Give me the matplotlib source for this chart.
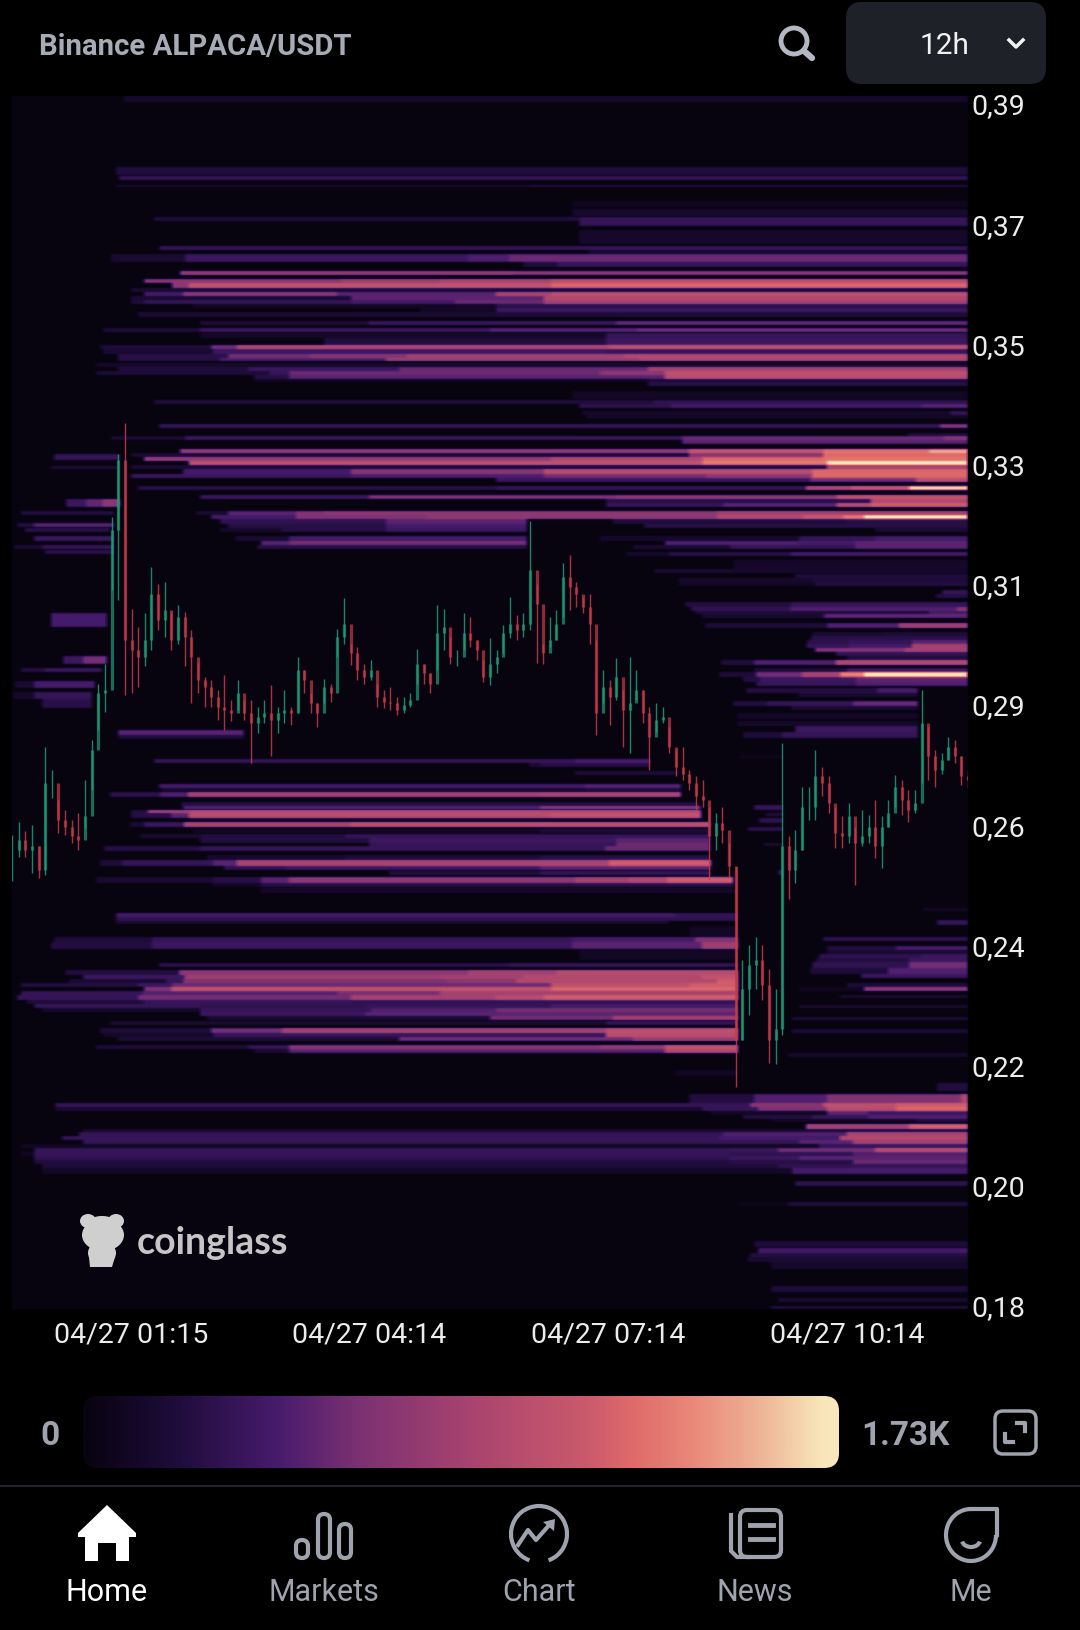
import numpy as np
import matplotlib
matplotlib.use('Agg')
import matplotlib.pyplot as plt
from matplotlib.colors import LinearSegmentedColormap
from matplotlib.patches import FancyBboxPatch, Circle, Polygon, Arc, Ellipse
from matplotlib.transforms import ScaledTranslation

plt.rcParams['font.family'] = ['Roboto', 'DejaVu Sans']

# minutes after 04/27 00:00, price in USDT
time_ticks = [75, 254, 434, 614]
time_labels = ['04/27 01:15', '04/27 04:14', '04/27 07:14', '04/27 10:14']
price_ticks = [0.39, 0.369, 0.348, 0.327, 0.306, 0.285, 0.264, 0.243, 0.222, 0.201, 0.18]
price_labels = ['0,39', '0,37', '0,35', '0,33', '0,31', '0,29', '0,26', '0,24', '0,22', '0,20', '0,18']
first_candle = -14.6
candle_step = 5

high = [.2625, .2648, .2631, .2642, .2605, .2779, .2738, .2686, .2669, .2651,
        .2663, .2721, .2791, .2889, .2924, .3180, .3291, .3344, .3020, .2988,
        .3012, .3093, .3064, .3067, .3012, .3026, .3014, .2982, .2927, .2901,
        .2895, .2878, .2904, .2860, .2895, .2860, .2860, .2849, .2860, .2886,
        .2849, .2878, .2849, .2936, .2913, .2872, .2855, .2898, .2889, .2985,
        .3038, .2959, .2953, .2924, .2930, .2889, .2878, .2884, .2866, .2866,
        .2872, .2950, .2924, .2907, .3026, .3020, .2971, .2948, .3012, .3006,
        .2965, .2930, .2968, .2948, .2991, .3041, .3009, .3012, .3174, .3064,
        .2959, .3006, .3017, .3099, .3113, .3067, .3041, .3046, .2965, .2913,
        .2895, .2933, .2878, .2936, .2913, .2878, .2849, .2855, .2849, .2814,
        .2773, .2779, .2738, .2727, .2721, .2674, .2663, .2674, .2610, .2569,
        .2407, .2433, .2447, .2433, .2390, .2355, .2785, .2622, .2634, .2709,
        .2709, .2773, .2744, .2727, .2674, .2657, .2680, .2639, .2669, .2660,
        .2686, .2657, .2686, .2730, .2721, .2703, .2703, .2878, .2814, .2773,
        .2767, .2796, .2791, .2762, .2738]
low = [.2544, .2587, .2587, .2558, .2549, .2555, .2689, .2628, .2625, .2610,
       .2599, .2637, .2703, .2808, .2840, .3052, .3035, .2869, .2872, .2884,
       .2919, .2948, .2982, .2971, .2948, .2959, .2919, .2855, .2872, .2849,
       .2849, .2825, .2808, .2823, .2843, .2825, .2750, .2802, .2820, .2762,
       .2802, .2820, .2817, .2837, .2872, .2837, .2814, .2855, .2857, .2936,
       .2959, .2921, .2895, .2889, .2895, .2849, .2846, .2843, .2834, .2837,
       .2849, .2889, .2889, .2872, .2913, .2948, .2924, .2919, .2948, .2953,
       .2930, .2892, .2886, .2907, .2942, .2968, .2965, .2971, .2982, .2925,
       .2924, .2953, .2965, .3006, .3017, .3023, .3012, .2959, .2799, .2855,
       .2817, .2860, .2779, .2767, .2860, .2820, .2738, .2805, .2820, .2767,
       .2727, .2721, .2703, .2669, .2674, .2546, .2599, .2610, .2552, .2184,
       .2267, .2311, .2355, .2337, .2227, .2224, .2276, .2512, .2541, .2599,
       .2651, .2651, .2692, .2663, .2602, .2602, .2610, .2538, .2605, .2610,
       .2584, .2567, .2639, .2674, .2660, .2648, .2663, .2715, .2721, .2709,
       .2732, .2756, .2750, .2712, .2706]
close = [.2599, .2616, .2599, .2605, .2564, .2715, .2715, .2651, .2639, .2622,
         .2616, .2657, .2773, .2872, .2878, .3157, .3279, .2965, .2948, .2936,
         .2965, .3046, .3000, .3017, .2965, .3006, .2971, .2936, .2895, .2884,
         .2866, .2849, .2843, .2837, .2872, .2837, .2820, .2831, .2837, .2825,
         .2837, .2843, .2837, .2913, .2895, .2855, .2837, .2884, .2872, .2971,
         .2994, .2942, .2913, .2901, .2913, .2866, .2857, .2855, .2843, .2852,
         .2860, .2924, .2907, .2889, .2977, .2988, .2936, .2936, .2977, .2965,
         .2948, .2901, .2924, .2936, .2977, .2994, .2982, .2994, .3087, .3029,
         .2942, .2965, .2994, .3075, .3058, .3046, .3023, .2994, .2837, .2884,
         .2866, .2901, .2843, .2855, .2878, .2837, .2796, .2825, .2831, .2779,
         .2744, .2732, .2715, .2692, .2686, .2622, .2645, .2634, .2570, .2267,
         .2355, .2398, .2407, .2363, .2267, .2285, .2605, .2564, .2599, .2674,
         .2674, .2727, .2715, .2680, .2628, .2622, .2657, .2610, .2622, .2639,
         .2605, .2639, .2663, .2709, .2686, .2669, .2680, .2820, .2762, .2738,
         .2756, .2779, .2762, .2727, .2721]

# heat bands: (price top, price bottom, [(minute the step starts, level 0-1), ...])
# a last step with level 0 ends the band, otherwise it runs to the right edge
upper_bands = [
    (.3915, .3906, [(70, .08)]),
    (.3792, .3778, [(64, .13)]),
    (.3776, .3769, [(66, .2)]),
    (.3761, .3756, [(64, .1), (376, .14)]),
    (.3732, .3721, [(407, .05)]),
    (.3718, .3706, [(407, .09)]),
    (.3705, .3698, [(92, .13), (376, .13), (412, .2)]),
    (.3698, .3689, [(412, .2)]),
    (.3681, .3657, [(412, .08)]),
    (.3654, .3647, [(96, .2)]),
    (.3646, .3639, [(420, .08)]),
    (.3639, .3625, [(60, .1), (116, .22), (329, .27), (360, .33)]),
    (.3625, .3617, [(370, .12), (396, .2)]),
    (.3610, .3603, [(112, .45), (363, .42)]),
    (.3596, .3589, [(85, .4), (106, .42), (233, .48), (308, .52), (391, .6)]),
    (.3589, .3581, [(106, .42), (119, .62), (391, .72)]),
    (.3581, .3574, [(75, .1)]),
    (.3574, .3567, [(85, .25), (114, .42), (230, .3), (350, .52), (391, .6)]),
    (.3567, .3560, [(75, .1), (241, .3), (386, .55)]),
    (.3560, .3553, [(75, .12), (85, .2), (241, .25), (319, .33), (386, .5)]),
    (.3553, .3546, [(122, .06), (350, .16)]),
    (.3546, .3539, [(293, .06), (350, .22)]),
    (.3538, .3530, [(80, .1), (350, .12)]),
    (.3523, .3516, [(127, .12), (254, .22), (440, .33)]),
    (.3510, .3503, [(54, .12), (127, .22), (345, .3), (456, .35)]),
    (.3501, .3493, [(127, .07), (433, .2)]),
    (.3493, .3480, [(220, .13), (433, .22)]),
    (.3480, .3473, [(52, .12), (135, .35), (155, .55), (435, .62)]),
    (.3473, .3465, [(54, .1), (137, .22), (433, .2)]),
    (.3465, .3458, [(65, .16), (148, .35), (210, .4), (283, .5), (446, .55)]),
    (.3458, .3452, [(65, .16), (142, .28), (267, .48), (458, .55)]),
    (.3450, .3443, [(49, .08)]),
    (.3443, .3436, [(65, .13), (163, .22), (277, .33), (464, .5)]),
    (.3436, .3429, [(49, .12), (179, .2), (194, .33), (428, .42), (477, .6)]),
    (.3429, .3422, [(168, .15), (194, .3), (477, .58)]),
    (.3421, .3416, [(168, .05), (464, .1)]),
    (.3416, .3409, [(464, .16)]),
    (.3401, .3387, [(407, .06)]),
    (.3385, .3378, [(92, .13), (376, .13), (469, .18)]),
    (.3378, .3371, [(412, .18), (482, .24), (671, .3)]),
    (.3365, .3358, [(415, .08), (692, .2)]),
    (.3358, .3351, [(418, .06)]),
    (.3342, .3335, [(96, .2), (684, .4)]),
    (.3327, .3321, [(660, .12)]),
    (.3321, .3314, [(60, .1), (116, .22), (490, .33), (687, .4)]),
    (.3314, .3307, [(490, .3)]),
    (.3299, .3292, [(112, .45), (363, .45), (495, .65), (596, .75), (676, .88)]),
    (.3292, .3285, [(75, .1), (495, .4), (596, .72)]),
    (.3285, .3278, [(85, .45), (106, .45), (391, .55), (505, .72), (596, .75)]),
    (.3278, .3271, [(119, .62), (505, .78), (599, 1.0)]),
    (.3271, .3264, [(75, .1), (599, .5)]),
    (.3264, .3256, [(114, .25), (241, .4), (386, .58), (588, .72)]),
    (.3256, .3249, [(75, .22), (241, .27), (386, .35), (508, .42), (588, .72)]),
    (.3249, .3241, [(350, .22), (586, .35), (666, .6)]),
    (.3234, .3227, [(80, .16), (350, .2), (583, .55), (617, .65), (661, 1.0)]),
    (.3219, .3212, [(127, .22), (254, .38), (440, .42), (607, .62)]),
    (.3212, .3205, [(433, .15), (632, .55)]),
    (.3205, .3197, [(433, .2), (521, .3), (607, .58), (632, .68)]),
    (.3190, .3183, [(124, .1), (148, .3), (199, .38), (220, .42), (433, .42), (516, .5)]),
    (.3183, .3176, [(135, .25), (199, .38), (298, .43), (516, .55), (581, .65), (611, .78), (627, 1.0)]),
    (.3176, .3168, [(142, .18), (267, .3), (373, 0)]),
    (.3176, .3168, [(438, .12), (614, .15)]),
    (.3168, .3161, [(148, .15), (267, .25), (373, 0)]),
    (.3168, .3161, [(461, .15)]),
    (.3161, .3154, [(142, .08), (189, .15), (267, .22), (373, 0)]),
    (.3161, .3154, [(635, .1)]),
    (.3147, .3139, [(153, .1), (194, .25), (373, 0)]),
    (.3147, .3139, [(428, .08), (578, .2), (635, .25)]),
    (.3139, .3132, [(173, .3), (194, .36), (373, 0)]),
    (.3139, .3132, [(477, .28), (578, .25), (620, .3)]),
    (.3132, .3125, [(170, .15), (373, 0)]),
    (.3132, .3125, [(453, .1), (526, .2), (620, .3)]),
]

left_bands = [
    (.3290, .3279, [(17, .2), (67, 0)]),
    (.3270, .3264, [(15, .12), (65, 0)]),
    (.3212, .3197, [(26, .22), (41, .32), (54, .42), (67, 0)]),
    (.3190, .3183, [(-8, .14), (62, 0)]),
    (.3170, .3162, [(-11, .14), (2, .3), (62, 0)]),
    (.3161, .3154, [(-5, .16), (59, 0)]),
    (.3147, .3139, [(2, .22), (62, 0)]),
    (.3132, .3125, [(-13, .1), (8, .2), (62, 0)]),
    (.3123, .3116, [(10, .17), (62, 0)]),
    (.3012, .2988, [(15, .25), (57, 0)]),
    (.2937, .2924, [(24, .22), (39, .35), (57, 0)]),
    (.2917, .2910, [(-8, .15), (10, .22), (53, 0)]),
    (.2894, .2881, [(-12, .1), (2, .25), (48, 0)]),
    (.2875, .2863, [(-14, .08), (2, .2), (46, 0)]),
    (.2863, .2846, [(8, .16), (46, 0)]),
]

right_bands = [
    (.3119, .3112, [(448, .08), (480, .16), (572, .25)]),
    (.3105, .3090, [(529, .08)]),
    (.3090, .3082, [(469, .1), (529, .08)]),
    (.3081, .3074, [(575, .13)]),
    (.3073, .3066, [(487, .08), (588, .12)]),
    (.3066, .3060, [(487, .06), (590, .14)]),
    (.3053, .3046, [(686, .2)]),
    (.3046, .3038, [(681, .15)]),
    (.3031, .3023, [(492, .14), (572, .2)]),
    (.3023, .3016, [(497, .18), (571, .28), (697, .4)]),
    (.3016, .3010, [(500, .12), (676, .25)]),
    (.3010, .3003, [(505, .1), (597, .32)]),
    (.2995, .2987, [(507, .12), (599, .28), (653, .48)]),
    (.2980, .2972, [(588, .1), (642, .12)]),
    (.2972, .2965, [(587, .16)]),
    (.2965, .2958, [(584, .17), (616, .2), (663, .3)]),
    (.2958, .2951, [(583, .2), (616, .25), (663, .5)]),
    (.2951, .2944, [(590, .38), (658, .5)]),
    (.2944, .2937, [(606, .18)]),
    (.2937, .2931, [(614, .12)]),
    (.2930, .2922, [(519, .13), (544, .28), (606, .55)]),
    (.2916, .2909, [(544, .12), (614, .22)]),
    (.2909, .2900, [(518, .12), (546, .35), (580, .52), (609, .8), (627, 1.0)]),
    (.2900, .2892, [(536, .14), (549, .22), (621, .3)]),
    (.2892, .2885, [(546, .2), (621, .28)]),
    (.2881, .2873, [(538, .14), (637, .25), (668, 0)]),
    (.2873, .2866, [(577, .1), (668, 0)]),
    (.2859, .2850, [(528, .14), (554, .2), (619, .33), (668, 0)]),
    (.2850, .2843, [(572, .1), (668, 0)]),
    (.2837, .2828, [(531, .07), (668, 0)]),
    (.2824, .2815, [(531, .08), (668, 0)]),
    (.2815, .2805, [(575, .22), (668, 0)]),
    (.2805, .2794, [(536, .12), (565, .2), (668, 0)]),
    (.2764, .2759, [(533, .05), (566, 0)]),
    (.2677, .2669, [(544, .2), (566, 0)]),
    (.2663, .2657, [(553, .14), (566, 0)]),
    (.2654, .2646, [(548, .18), (566, 0)]),
    (.2639, .2631, [(540, .17), (566, 0)]),
    (.2610, .2605, [(552, .1), (566, 0)]),
    (.2564, .2555, [(562, .2), (566, 0)]),
]

middle_bands = [
    (.2808, .2799, [(65, .3), (160, 0)]),
    (.2799, .2793, [(65, .12), (160, 0)]),
    (.2757, .2750, [(92, .2), (409, .26), (466, 0)]),
    (.2750, .2743, [(375, .1), (383, .15), (466, 0)]),
    (.2737, .2729, [(409, .12), (487, 0)]),
    (.2713, .2706, [(96, .25), (417, .3), (489, 0)]),
    (.2706, .2701, [(98, .1), (417, .13), (489, 0)]),
    (.2699, .2691, [(59, .17), (97, .28), (118, .5), (383, .52), (489, 0)]),
    (.2683, .2675, [(113, .14), (502, 0)]),
    (.2675, .2670, [(114, .3), (383, .42), (504, 0)]),
    (.2669, .2663, [(75, .15), (88, .5), (119, .57), (504, 0)]),
    (.2663, .2655, [(75, .15), (105, .3), (119, .58), (391, .62), (504, 0)]),
    (.2655, .2650, [(119, .07), (506, 0)]),
    (.2648, .2639, [(74, .1), (85, .22), (115, .52), (241, .6), (511, 0)]),
    (.2635, .2628, [(121, .06), (383, .12), (511, 0)]),
    (.2627, .2619, [(82, .1), (127, .13), (236, .2), (511, 0)]),
    (.2619, .2610, [(127, .14), (254, .22), (440, .3), (511, 0)]),
    (.2610, .2605, [(254, .2), (440, .33), (511, 0)]),
    (.2605, .2597, [(55, .15), (127, .2), (432, .33), (511, 0)]),
    (.2589, .2581, [(132, .08), (236, .12), (383, .15), (511, 0)]),
    (.2581, .2570, [(52, .12), (68, .2), (137, .3), (155, .52), (435, .68), (512, 0)]),
    (.2570, .2563, [(145, .18), (192, .22), (383, .3), (512, 0)]),
    (.2561, .2554, [(269, .14), (383, .2), (512, 0)]),
    (.2552, .2541, [(49, .1), (137, .16), (173, .3), (194, .42), (409, .5), (450, .55), (479, .68), (528, 0)]),
    (.2541, .2534, [(137, .06), (173, .15), (529, 0)]),
    (.2532, .2523, [(173, .08), (529, 0)]),
    (.2488, .2481, [(64, .25), (485, .2), (532, 0)]),
    (.2481, .2474, [(64, .18), (532, 0)]),
    (.2474, .2469, [(64, .1), (480, 0)]),
    (.2465, .2448, [(495, .06), (532, 0)]),
    (.2446, .2437, [(17, .12), (91, .2), (407, .25), (500, .38), (532, 0)]),
    (.2437, .2426, [(15, .14), (91, .22), (407, .3), (505, .48), (532, 0)]),
    (.2423, .2407, [(412, .06), (532, 0)]),
    (.2401, .2394, [(96, .17), (360, .2), (532, 0)]),
    (.2389, .2380, [(25, .14), (111, .42), (329, .5), (396, .58), (532, 0)]),
    (.2380, .2373, [(39, .22), (116, .48), (308, .5), (370, .55), (505, .62), (532, 0)]),
    (.2373, .2366, [(28, .1), (101, .2), (114, .38), (313, .42), (365, .55), (516, .68), (532, 0)]),
    (.2366, .2359, [(-8, .14), (80, .22), (106, .33), (391, .6), (495, .68), (532, 0)]),
    (.2359, .2352, [(85, .38), (105, .62), (391, .72), (532, 0)]),
    (.2352, .2345, [(-8, .2), (83, .28), (230, .35), (308, .5), (532, 0)]),
    (.2345, .2337, [(-11, .2), (80, .35), (241, .5), (350, .58), (386, .68), (532, 0)]),
    (.2337, .2330, [(-3, .12), (85, .2), (241, .18), (532, 0)]),
    (.2330, .2323, [(2, .2), (127, .18), (251, .2), (391, .25), (532, 0)]),
    (.2323, .2315, [(8, .08), (127, .2), (256, .28), (350, .35), (532, 0)]),
    (.2315, .2308, [(127, .22), (251, .3), (532, 0)]),
    (.2308, .2301, [(132, .1), (345, .35), (438, .5), (532, 0)]),
    (.2299, .2293, [(59, .1), (132, .1), (433, .2), (532, 0)]),
    (.2287, .2279, [(52, .12), (135, .35), (189, .5), (433, .6), (532, 0)]),
    (.2279, .2272, [(54, .07), (137, .2), (433, .58), (532, 0)]),
    (.2272, .2265, [(65, .12), (277, .35), (453, .48), (532, 0)]),
    (.2257, .2250, [(49, .12), (163, .2), (194, .4), (428, .45), (477, .62), (532, 0)]),
    (.2250, .2243, [(168, .1), (194, .3), (477, .55), (532, 0)]),
]

lower_bands = [
    (.2497, .2491, [(671, .07)]),
    (.2476, .2468, [(682, .2)]),
    (.2446, .2440, [(596, .18)]),
    (.2430, .2424, [(599, .14), (651, .26)]),
    (.2424, .2417, [(599, .1)]),
    (.2417, .2410, [(593, .18), (671, .22)]),
    (.2410, .2402, [(591, .14), (661, .22)]),
    (.2402, .2392, [(588, .18), (661, .35)]),
    (.2392, .2382, [(586, .12), (645, .28)]),
    (.2382, .2374, [(625, .22)]),
    (.2366, .2359, [(614, .12)]),
    (.2359, .2352, [(578, .05), (627, .42)]),
    (.2345, .2339, [(609, .1)]),
    (.2328, .2323, [(578, .1)]),
    (.2307, .2301, [(573, .12)]),
    (.2286, .2279, [(573, .12)]),
    (.2243, .2237, [(570, .08)]),
    (.2214, .2203, [(485, .06), (532, 0)]),
    (.2192, .2177, [(682, .14)]),
    (.2172, .2157, [(495, .14), (544, .28), (599, .38), (700, .55)]),
    (.2157, .2150, [(18, .2), (541, .4), (596, .6), (651, .68)]),
    (.2150, .2143, [(18, .1), (505, .2), (547, .38), (599, .58), (651, .72)]),
    (.2143, .2135, [(511, .06), (599, .3), (630, .22)]),
    (.2135, .2128, [(536, .14), (588, .2), (630, .28)]),
    (.2128, .2123, [(557, .06), (666, .12)]),
    (.2120, .2111, [(583, .5), (661, .7)]),
    (.2111, .2105, [(39, .1), (495, .1), (583, .1)]),
    (.2105, .2098, [(36, .2), (521, .28), (614, .52)]),
    (.2098, .2091, [(23, .2), (518, .25), (609, .55)]),
    (.2091, .2084, [(39, .2), (521, .2), (578, .3), (619, .5)]),
    (.2084, .2078, [(-8, .06), (593, .2)]),
    (.2077, .2070, [(2, .2), (526, .22), (562, .35), (635, .58)]),
    (.2070, .2063, [(-8, .06), (2, .2), (526, .18), (619, .28)]),
    (.2063, .2056, [(2, .18), (526, .22), (578, .3)]),
    (.2056, .2049, [(2, .13), (526, .15), (619, .33)]),
    (.2049, .2042, [(8, .12), (562, .18), (619, .2)]),
    (.2042, .2033, [(8, .07), (573, .25)]),
    (.2020, .2011, [(575, .18)]),
    (.1983, .1976, [(531, .04), (570, .13)]),
    (.1916, .1904, [(544, .12)]),
    (.1903, .1895, [(547, .25)]),
    (.1895, .1887, [(541, .14)]),
    (.1887, .1878, [(539, .1)]),
    (.1878, .1867, [(557, .08)]),
    (.1837, .1826, [(557, .12)]),
    (.1815, .1809, [(562, .1)]),
    (.1802, .1795, [(557, .14)]),
]

W, H = 1080, 1631
BG = '#000000'
GREY = '#9ea3ae'

heat = LinearSegmentedColormap.from_list('heat', [
    (0, '#07030f'), (.12, '#1e0c3a'), (.255, '#461b6c'), (.365, '#7c3172'),
    (.53, '#ad466f'), (.67, '#cb5a6c'), (.73, '#df6b6a'), (.8, '#e98578'),
    (.89, '#edb093'), (.98, '#f8e6b9'), (1, '#f8e8bc')])

fig = plt.figure(figsize=(W / 100, H / 100), dpi=100, facecolor=BG)

# main chart
ax = fig.add_axes([12 / W, 1 - 1310 / H, (968 - 12) / W, (1310 - 97) / H])
ax.set_facecolor('#06030e')
x_left, x_right = -14.6, 705.3
y_low, y_high = 0.17965, 0.39157

# bands are painted on a fine grid and softened a little, the picture is a blurry screenshot
n_rows, n_cols = 1213, 956
grid = np.zeros((n_rows, n_cols))
col_per_min = n_cols / (x_right - x_left)
row_per_price = n_rows / (y_high - y_low)
for band in upper_bands + left_bands + right_bands + middle_bands + lower_bands:
    top, bottom, steps = band
    r0 = int(round((y_high - top) * row_per_price))
    r1 = int(round((y_high - bottom) * row_per_price))
    for n, (start, level) in enumerate(steps):
        end = steps[n + 1][0] if n + 1 < len(steps) else x_right
        c0 = max(int(round((start - x_left) * col_per_min)), 0)
        c1 = int(round((end - x_left) * col_per_min))
        grid[r0:r1, c0:c1] = np.maximum(grid[r0:r1, c0:c1], level)

for axis, kernel in [(0, [.05, .2, .5, .2, .05]), (1, [.2, .2, .2, .2, .2])]:
    grid = np.apply_along_axis(lambda v: np.convolve(v, kernel, mode='same'), axis, grid)

ax.imshow(grid, cmap=heat, vmin=0, vmax=1, extent=[x_left, x_right, y_low, y_high],
          origin='upper', aspect='auto', interpolation='nearest', zorder=1)
ax.set_xlim(x_left, x_right)
ax.set_ylim(y_low, y_high)

t = first_candle + candle_step * np.arange(len(close))
opens = [close[0]] + close[:-1]
for i in range(len(close)):
    col = '#1f9d78' if close[i] >= opens[i] else '#c63b4b'
    ax.vlines(t[i], low[i], high[i], color=col, lw=1.0, alpha=.85, zorder=3)
    ax.vlines(t[i], min(opens[i], close[i]), max(opens[i], close[i]), color=col, lw=2.3, alpha=.7, zorder=4)

ax.set_xticks(time_ticks)
ax.set_xticklabels(time_labels, fontsize=20.5, color='#ececec')
ax.yaxis.tick_right()
ax.set_yticks(price_ticks)
ax.set_yticklabels(price_labels, fontsize=20.5, color='#ececec')
ax.tick_params(axis='both', length=0)
ax.tick_params(axis='x', pad=8)
ax.tick_params(axis='y', pad=2.5)
for label in ax.get_yticklabels():
    label.set_transform(label.get_transform() + ScaledTranslation(0, 1.5 / 72, fig.dpi_scale_trans))
for s in ax.spines.values():
    s.set_visible(False)

# screen furniture, in pixel coordinates
ui = fig.add_axes([0, 0, 1, 1], facecolor='none')
ui.set_xlim(0, W)
ui.set_ylim(H, 0)
ui.axis('off')

ui.text(39, 47, 'Binance ALPACA/USDT', fontsize=21.2, fontweight='bold', color='#a6abb6', va='center')
ui.add_patch(Circle((794, 42), 13, fill=False, ec='#b4b8c2', lw=3.5))
ui.plot([804, 812], [52, 59], color='#b4b8c2', lw=4.5, solid_capstyle='round')
ui.add_patch(FancyBboxPatch((858, 15), 176, 58, boxstyle='round,pad=12,rounding_size=16', fc='#1e2127', ec='none'))
ui.text(945, 46, '12h', fontsize=21.5, color='#f2f2f2', ha='center', va='center')
ui.plot([1009, 1016, 1023], [41, 48, 41], color='#f2f2f2', lw=2.5)

# logo
for cx, cy, w, h in [(103, 1236, 42, 32), (102, 1254, 28, 24), (88, 1222, 16, 14), (116, 1222, 16, 14), (102, 1226, 32, 18)]:
    ui.add_patch(Ellipse((cx, cy), w, h, fc='#cfcfcf', ec='none', zorder=5))
ui.add_patch(Polygon([[89, 1258], [115, 1258], [112, 1268], [90, 1268]], fc='#cfcfcf', ec='none', zorder=5))
ui.text(137, 1243, 'coinglass', fontsize=27, fontfamily='Lato', fontweight='bold', color='#c6c6c6', va='center', zorder=5)

# colour scale
gradient = np.linspace(0, 1, 512).reshape(1, -1)
img = ui.imshow(gradient, cmap=heat, extent=[83, 839, 1469, 1397], aspect='auto', zorder=2)
ui.set_xlim(0, W)
ui.set_ylim(H, 0)
clip = FancyBboxPatch((97, 1411), 728, 44, boxstyle='round,pad=14,rounding_size=15', fc='none', ec='none', transform=ui.transData)
ui.add_patch(clip)
img.set_clip_path(clip)
ui.text(50, 1436, '0', fontsize=24, fontweight='bold', color=GREY, ha='center', va='center')
ui.text(905, 1436, '1.73K', fontsize=24, fontweight='bold', color=GREY, ha='center', va='center')
ui.add_patch(FancyBboxPatch((1001, 1418), 29, 31, boxstyle='round,pad=6,rounding_size=8', fc='none', ec=GREY, lw=2.5))
ui.plot([1017, 1025, 1025], [1424, 1424, 1432], color=GREY, lw=3)
ui.plot([1005, 1005, 1013], [1435, 1443, 1443], color=GREY, lw=3)

ui.plot([0, W], [1487, 1487], color='#2b2d35', lw=1.2)

# bottom navigation
tabs = ['Home', 'Markets', 'Chart', 'News', 'Me']
tab_x = [107, 324, 539, 755, 971]
for name, tx in zip(tabs, tab_x):
    ui.text(tx, 1593, name, fontsize=22, color='#ffffff' if name == 'Home' else GREY, ha='center', va='center')

ui.add_patch(Polygon([[107, 1506], [136, 1534], [136, 1538], [129, 1538], [129, 1562], [116, 1562], [116, 1544],
                      [98, 1544], [98, 1562], [85, 1562], [85, 1538], [78, 1538], [78, 1534]], fc='#ffffff', ec='none'))
for bx, top, bottom in [(302, 1540, 1560), (324, 1514, 1560), (345, 1524, 1560)]:
    ui.add_patch(FancyBboxPatch((bx - 2, top + 5), 4, bottom - top - 10, boxstyle='round,pad=4,rounding_size=6', fc='none', ec=GREY, lw=3))
ui.add_patch(Arc((539, 1535), 56, 56, theta1=110, theta2=70, ec=GREY, lw=3))
ui.plot([518, 528, 536, 551], [1546, 1531, 1541, 1524], color=GREY, lw=3)
ui.add_patch(Polygon([[543, 1523], [555, 1520], [554, 1532]], fc=GREY, ec='none'))
ui.add_patch(FancyBboxPatch((744, 1515), 33, 39, boxstyle='round,pad=4,rounding_size=7', fc='none', ec=GREY, lw=3))
ui.plot([731, 731, 737, 749], [1516, 1552, 1558, 1558], color=GREY, lw=3)
ui.plot([750, 773], [1526, 1526], color=GREY, lw=3.5)
ui.plot([750, 773], [1540, 1540], color=GREY, lw=3.5)
ui.add_patch(Arc((971, 1536), 50, 52, theta1=0, theta2=270, ec=GREY, lw=3))
ui.plot([971, 997, 997], [1510, 1510, 1536], color=GREY, lw=3)
ui.add_patch(Arc((971, 1541), 18, 14, theta1=10, theta2=170, ec=GREY, lw=3))

fig.savefig('out.png', dpi=100, facecolor=BG)
